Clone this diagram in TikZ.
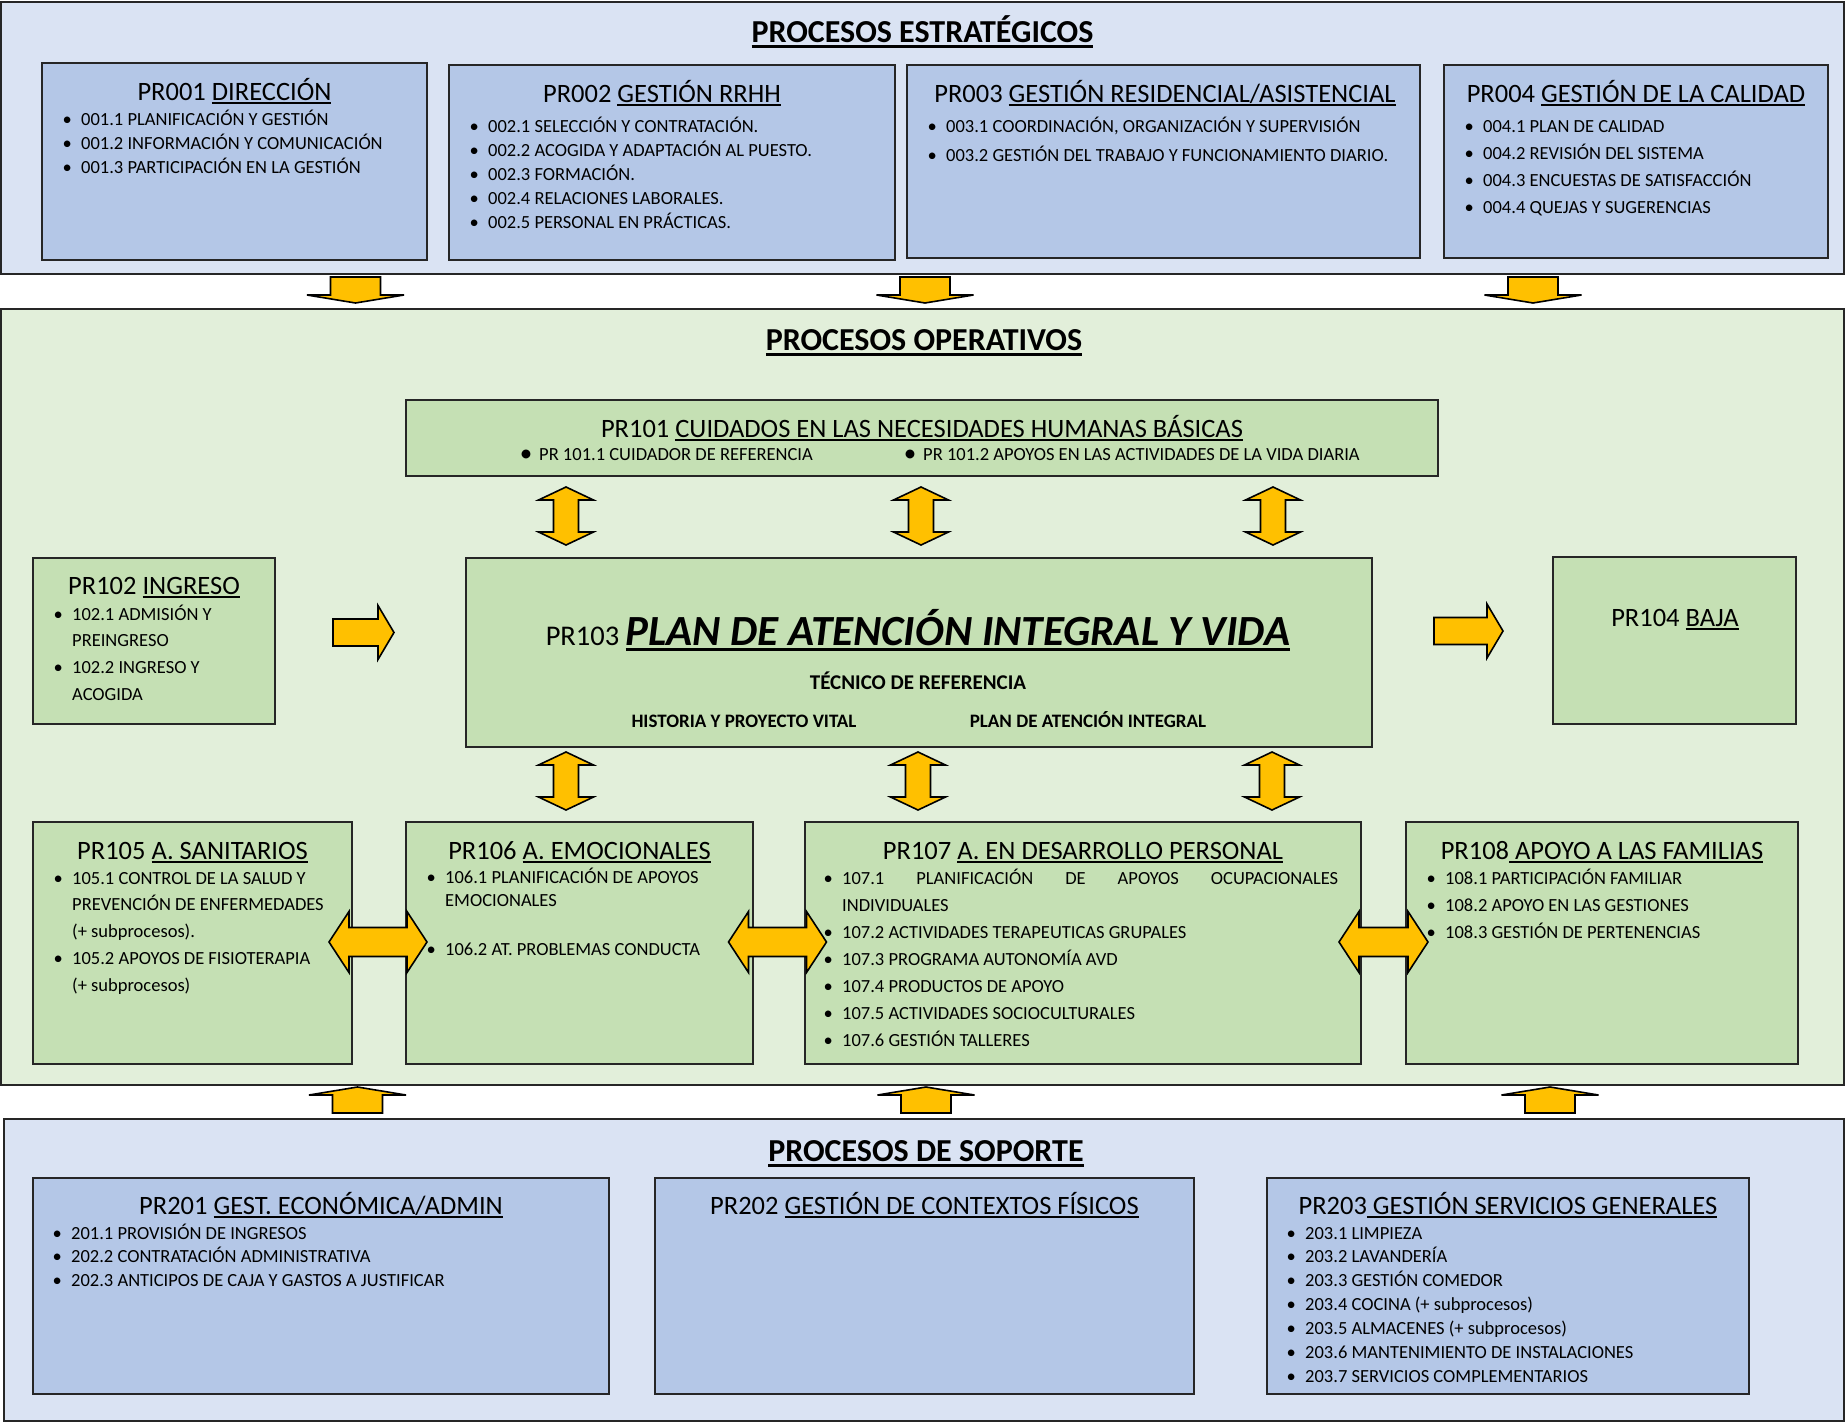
\documentclass[tikz,border=0pt]{standalone}
\usepackage{fontspec}
\setmainfont{Carlito}
\definecolor{secblue}{HTML}{DAE3F3}
\definecolor{boxblue}{HTML}{B4C7E7}
\definecolor{secgreen}{HTML}{E2EFDA}
\definecolor{boxgreen}{HTML}{C5E0B4}
\definecolor{arrowfill}{HTML}{FFC000}
\newcommand\prsec{\fontsize{32}{36}\selectfont\bfseries}
\newcommand\prtitle{\fontsize{26.5}{30}\selectfont}
\newcommand\pritem{\fontsize{18.5}{22}\selectfont}
\newcommand\pbul{\makebox[28pt][c]{\textbullet}}
\newcommand\pcon{\hspace*{28pt}}
\newsavebox\ulbox
\newcommand\uln[1]{\sbox\ulbox{#1}\rlap{\rule[-0.15em]{\wd\ulbox}{0.075em}}\usebox\ulbox}
\newcommand\ulsec[1]{\sbox\ulbox{#1}\rlap{\rule[-0.19em]{\wd\ulbox}{0.1em}}\usebox\ulbox}
\tikzset{
  sec/.style={draw=black!85, line width=2pt, anchor=north west, inner sep=0pt, outer sep=0pt},
  bbox/.style={draw=black!85, line width=1.5pt, fill=boxblue, anchor=north west, inner sep=0pt, outer sep=0pt},
  gbox/.style={bbox, fill=boxgreen},
  sectit/.style={anchor=base, inner sep=0pt, font=\prsec},
  ptitle/.style={anchor=base, inner sep=0pt, font=\prtitle},
  pitem/.style={anchor=base west, inner sep=0pt, font=\pritem},
  blk/.style={draw=black, line width=1.6pt, fill=arrowfill, line join=miter},
  pics/blockv/.style={code={\draw[blk] (-25,-13) -- (25,-13) -- (25,5) -- (48.5,5) -- (0,13) -- (-48.5,5) -- (-25,5) -- cycle;}},
  pics/dblv/.style={code={\draw[blk] (0,-29) -- (27.5,-16) -- (12.5,-16) -- (12.5,16) -- (27.5,16) -- (0,29) -- (-27.5,16) -- (-12.5,16) -- (-12.5,-16) -- (-27.5,-16) -- cycle;}},
  pics/dblh/.style={code={\draw[blk] (-#1,0) -- ({-#1+20},-30.5) -- ({-#1+20},-14.5) -- ({#1-20},-14.5) -- ({#1-20},-30.5) -- (#1,0) -- ({#1-20},30.5) -- ({#1-20},14.5) -- ({-#1+20},14.5) -- ({-#1+20},30.5) -- cycle;}},
  pics/rarr/.style={code={\draw[blk] (0,-13.5) -- ({#1-16},-13.5) -- ({#1-16},-27) -- (#1,0) -- ({#1-16},27) -- ({#1-16},13.5) -- (0,13.5) -- cycle;}}
}
\begin{document}
\begin{tikzpicture}[x=1pt,y=-1pt]
\useasboundingbox (0,0) rectangle (1845,1422);
% sections
\node[sec, fill=secblue, minimum width=1843, minimum height=272] (estr) at (1,2) {};
\node[sec, fill=secgreen, minimum width=1843, minimum height=776] (oper) at (1,309) {};
\node[sec, fill=secblue, minimum width=1840, minimum height=302] (sop) at (4,1119) {};
% boxes
\node[bbox, minimum width=385, minimum height=197] (pr001) at (42,63) {};
\node[bbox, minimum width=446, minimum height=195] (pr002) at (449,65) {};
\node[bbox, minimum width=513, minimum height=193] (pr003) at (907,65) {};
\node[bbox, minimum width=384, minimum height=193] (pr004) at (1444,65) {};
\node[gbox, minimum width=1032, minimum height=76] (pr101) at (406,400) {};
\node[gbox, minimum width=242, minimum height=166] (pr102) at (33,558) {};
\node[gbox, minimum width=906, minimum height=189] (pr103) at (466,558) {};
\node[gbox, minimum width=243, minimum height=167] (pr104) at (1553,557) {};
\node[gbox, minimum width=319, minimum height=242] (pr105) at (33,822) {};
\node[gbox, minimum width=347, minimum height=242] (pr106) at (406,822) {};
\node[gbox, minimum width=556, minimum height=242] (pr107) at (805,822) {};
\node[gbox, minimum width=392, minimum height=242] (pr108) at (1406,822) {};
\node[bbox, minimum width=576, minimum height=216] (pr201) at (33,1178) {};
\node[bbox, minimum width=539, minimum height=216] (pr202) at (655,1178) {};
\node[bbox, minimum width=482, minimum height=216] (pr203) at (1267,1178) {};
% block arrows
\foreach \x in {355.5,925,1533} \pic at (\x,290) {blockv};
\foreach \x in {357.5,926,1550} \pic[yscale=-1] at (\x,1100) {blockv};
\foreach \x in {566,921,1273} \pic at (\x,516) {dblv};
\foreach \x in {566,918,1272} \pic at (\x,781) {dblv};
\pic at (378,942) {dblh=49};
\pic at (777.5,942) {dblh=49};
\pic at (1383.5,942) {dblh=44.5};
\pic at (333,632.5) {rarr=61};
\pic at (1434,631) {rarr=69};
% titles
\node[sectit] (tEstr) at (922.5,42) {\ulsec{PROCESOS ESTRATÉGICOS}};
\node[sectit] (tOper) at (924,350) {\ulsec{PROCESOS OPERATIVOS}};
\node[sectit] (tSop) at (926,1161) {\ulsec{PROCESOS DE SOPORTE}};
\node[ptitle] (t001) at (234.5,100) {PR001 \uln{DIRECCIÓN}};
\node[ptitle] (t002) at (662,102) {PR002 \uln{GESTIÓN RRHH}};
\node[ptitle] (t003) at (1165,102) {PR003 \uln{GESTIÓN RESIDENCIAL/ASISTENCIAL}};
\node[ptitle] (t004) at (1636,102) {PR004 \uln{GESTIÓN DE LA CALIDAD}};
\node[ptitle] (t101) at (922,437) {PR101 \uln{CUIDADOS EN LAS NECESIDADES HUMANAS BÁSICAS}};
\node[ptitle] (t102) at (154,594) {PR102 \uln{INGRESO}};
\node[ptitle] (t104) at (1675,626) {PR104 \uln{BAJA}};
\node[ptitle] (t105) at (192.5,859) {PR105 \uln{A. SANITARIOS}};
\node[ptitle] (t106) at (579.5,859) {PR106 \uln{A. EMOCIONALES}};
\node[ptitle] (t107) at (1083,859) {PR107 \uln{A. EN DESARROLLO PERSONAL}};
\node[ptitle] (t108) at (1602,859) {PR108\uln{~APOYO A LAS FAMILIAS}};
\node[ptitle] (t201) at (321,1214) {PR201 \uln{GEST. ECONÓMICA/ADMIN}};
\node[ptitle] (t202) at (924.5,1214) {PR202 \uln{GESTIÓN DE CONTEXTOS FÍSICOS}};
\node[ptitle] (t203) at (1508,1214) {PR203\uln{~GESTIÓN SERVICIOS GENERALES}};
% PR103
\node[anchor=base, inner sep=0pt] (t103) at (918,645) {{\fontsize{28.5}{30}\selectfont PR103 }{\fontsize{43}{46}\selectfont\bfseries\itshape\uln{PLAN DE ATENCIÓN INTEGRAL Y VIDA}}};
\node[anchor=base, inner sep=0pt, font=\fontsize{21}{24}\selectfont\bfseries] (tec) at (918,689) {TÉCNICO DE REFERENCIA};
\node[anchor=base, inner sep=0pt, font=\fontsize{19}{22}\selectfont\bfseries] (hist) at (744,727) {HISTORIA Y PROYECTO VITAL};
\node[anchor=base, inner sep=0pt, font=\fontsize{19}{22}\selectfont\bfseries] (plan) at (1088,727) {PLAN DE ATENCIÓN INTEGRAL};
% lists
\foreach \t [count=\i from 0] in {\pbul 001.1 PLANIFICACIÓN Y GESTIÓN,
  \pbul 001.2 INFORMACIÓN Y COMUNICACIÓN,
  \pbul 001.3 PARTICIPACIÓN EN LA GESTIÓN}
  \node[pitem] (l001-\i) at (53,{125+24*\i}) {\t};
\foreach \t [count=\i from 0] in {\pbul 002.1 SELECCIÓN Y CONTRATACIÓN.,
  \pbul 002.2 ACOGIDA Y ADAPTACIÓN AL PUESTO.,
  \pbul 002.3 FORMACIÓN.,
  \pbul 002.4 RELACIONES LABORALES.,
  \pbul 002.5 PERSONAL EN PRÁCTICAS.}
  \node[pitem] (l002-\i) at (460,{132+24*\i}) {\t};
\foreach \t [count=\i from 0] in {{\pbul 003.1 COORDINACIÓN, ORGANIZACIÓN Y SUPERVISIÓN},
  \pbul 003.2 GESTIÓN DEL TRABAJO Y FUNCIONAMIENTO DIARIO.}
  \node[pitem] (l003-\i) at (918,{132+29*\i}) {\t};
\foreach \t [count=\i from 0] in {\pbul 004.1 PLAN DE CALIDAD,
  \pbul 004.2 REVISIÓN DEL SISTEMA,
  \pbul 004.3 ENCUESTAS DE SATISFACCIÓN,
  \pbul 004.4 QUEJAS Y SUGERENCIAS}
  \node[pitem] (l004-\i) at (1455,{132+27.3*\i}) {\t};
\node[pitem] (l101-0) at (513,460) {\makebox[26pt][c]{\raisebox{-1.5pt}{\fontsize{25}{25}\selectfont\textbullet}}PR 101.1 CUIDADOR DE REFERENCIA};
\node[pitem] (l101-1) at (897,460) {\makebox[26pt][c]{\raisebox{-1.5pt}{\fontsize{25}{25}\selectfont\textbullet}}PR 101.2 APOYOS EN LAS ACTIVIDADES DE LA VIDA DIARIA};
\foreach \t [count=\i from 0] in {\pbul 102.1 ADMISIÓN Y,
  \pcon PREINGRESO,
  \pbul 102.2 INGRESO Y,
  \pcon ACOGIDA}
  \node[pitem] (l102-\i) at (44,{620+26.7*\i}) {\t};
\foreach \t [count=\i from 0] in {\pbul 105.1 CONTROL DE LA SALUD Y,
  \pcon PREVENCIÓN DE ENFERMEDADES,
  \pcon (+ subprocesos).,
  \pbul 105.2 APOYOS DE FISIOTERAPIA,
  \pcon (+ subprocesos)}
  \node[pitem] (l105-\i) at (44,{884+26.8*\i}) {\t};
\node[pitem] (l106-0) at (417,883) {\pbul 106.1 PLANIFICACIÓN DE APOYOS};
\node[pitem] (l106-1) at (417,906) {\pcon EMOCIONALES};
\node[pitem] (l106-2) at (417,955) {\pbul 106.2 AT. PROBLEMAS CONDUCTA};
\foreach \t [count=\i from 0] in {\pbul\makebox[496pt][s]{107.1\hfill PLANIFICACIÓN\hfill DE\hfill APOYOS\hfill OCUPACIONALES},
  \pcon INDIVIDUALES,
  \pbul 107.2 ACTIVIDADES TERAPEUTICAS GRUPALES,
  \pbul 107.3 PROGRAMA AUTONOMÍA AVD,
  \pbul 107.4 PRODUCTOS DE APOYO,
  \pbul 107.5 ACTIVIDADES SOCIOCULTURALES,
  \pbul 107.6 GESTIÓN TALLERES}
  \node[pitem] (l107-\i) at (814,{884+27.1*\i}) {\t};
\foreach \t [count=\i from 0] in {\pbul 108.1 PARTICIPACIÓN FAMILIAR,
  \pbul 108.2 APOYO EN LAS GESTIONES,
  \pbul 108.3 GESTIÓN DE PERTENENCIAS}
  \node[pitem] (l108-\i) at (1417,{884+27*\i}) {\t};
\foreach \t [count=\i from 0] in {\pbul 201.1 PROVISIÓN DE INGRESOS,
  \pbul 202.2 CONTRATACIÓN ADMINISTRATIVA,
  \pbul 202.3 ANTICIPOS DE CAJA Y GASTOS A JUSTIFICAR}
  \node[pitem] (l201-\i) at (43,{1239+23.9*\i}) {\t};
\foreach \t [count=\i from 0] in {\pbul 203.1 LIMPIEZA,
  \pbul 203.2 LAVANDERÍA,
  \pbul 203.3 GESTIÓN COMEDOR,
  \pbul 203.4 COCINA (+ subprocesos),
  \pbul 203.5 ALMACENES (+ subprocesos),
  \pbul 203.6 MANTENIMIENTO DE INSTALACIONES,
  \pbul 203.7 SERVICIOS COMPLEMENTARIOS}
  \node[pitem] (l203-\i) at (1277,{1239+23.9*\i}) {\t};
\end{tikzpicture}
\end{document}
